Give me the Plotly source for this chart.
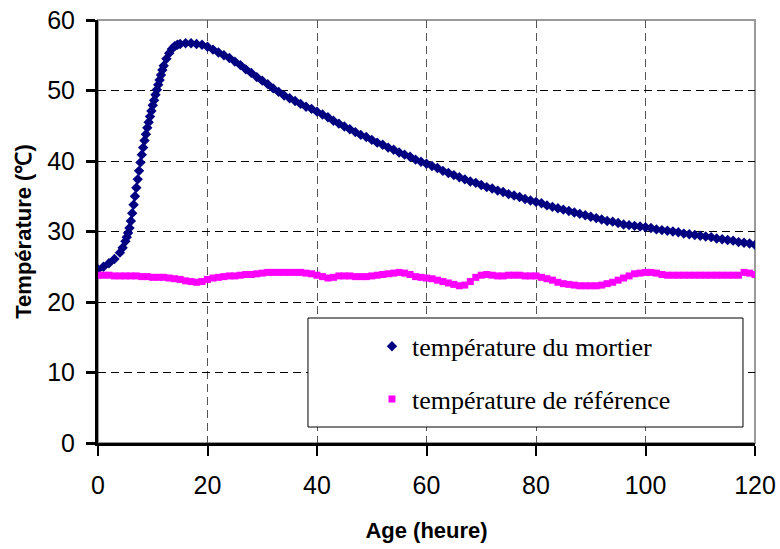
import plotly.graph_objects as go

# ---- data ----
age_mortier = [0, 1, 2, 3, 4, 4.5, 5, 5.25, 5.5, 5.75, 6, 6.25, 6.5, 6.75, 7, 7.25, 7.5, 7.75,
               8, 8.25, 8.5, 8.75, 9, 9.25, 9.5, 9.75, 10, 10.25, 10.5, 10.75, 11, 11.25, 11.5,
               11.75, 12, 12.5, 13, 13.5, 14, 14.5, 15, 16, 17, 18, 19, 20, 21, 22, 23, 24, 25,
               26, 27, 28, 29, 30, 31, 32, 33, 34, 35, 36, 37, 38, 39, 40, 41, 42, 43, 44, 45,
               46, 47, 48, 49, 50, 51, 52, 53, 54, 55, 56, 57, 58, 59, 60, 61, 62, 63, 64, 65,
               66, 67, 68, 69, 70, 71, 72, 73, 74, 75, 76, 77, 78, 79, 80, 81, 82, 83, 84, 85,
               86, 87, 88, 89, 90, 91, 92, 93, 94, 95, 96, 97, 98, 99, 100, 101, 102, 103, 104,
               105, 106, 107, 108, 109, 110, 111, 112, 113, 114, 115, 116, 117, 118, 119, 120]
temp_mortier = [24.6, 25.0, 25.5, 26.1, 27.0, 27.7, 28.6, 29.2, 29.8, 30.5, 31.5, 32.6, 33.8, 35.0,
                36.2, 37.4, 38.6, 39.8, 40.9, 41.9, 42.9, 43.8, 44.7, 45.5, 46.3, 47.1, 47.9, 48.6,
                49.4, 50.1, 50.8, 51.5, 52.2, 52.9, 53.5, 54.5, 55.3, 55.9, 56.3, 56.5, 56.6, 56.7,
                56.7, 56.6, 56.5, 56.2, 55.8, 55.4, 55.0, 54.6, 54.1, 53.6, 53.0, 52.5, 51.9, 51.4,
                50.9, 50.3, 49.8, 49.3, 48.9, 48.5, 48.1, 47.7, 47.4, 47.0, 46.6, 46.2, 45.7, 45.3,
                44.9, 44.5, 44.1, 43.7, 43.4, 43.0, 42.6, 42.3, 41.9, 41.6, 41.2, 40.9, 40.6, 40.2,
                39.9, 39.6, 39.3, 39.0, 38.6, 38.3, 38.0, 37.7, 37.4, 37.1, 36.9, 36.6, 36.3, 36.1,
                35.8, 35.6, 35.3, 35.1, 34.9, 34.6, 34.4, 34.2, 34.0, 33.7, 33.5, 33.3, 33.1, 32.9,
                32.7, 32.5, 32.3, 32.1, 31.9, 31.7, 31.5, 31.4, 31.2, 31.0, 30.9, 30.8, 30.7, 30.6,
                30.5, 30.3, 30.2, 30.1, 30.0, 29.9, 29.7, 29.6, 29.5, 29.4, 29.3, 29.2, 29.0, 28.9,
                28.8, 28.7, 28.5, 28.4, 28.3, 28.1]

age_reference = list(range(0, 121))
temp_reference = [23.8, 23.8, 23.8, 23.7, 23.7, 23.7, 23.7, 23.7, 23.6, 23.6, 23.5, 23.5, 23.5, 23.4,
                  23.3, 23.2, 23.0, 22.9, 22.8, 22.9, 23.2, 23.4, 23.5, 23.6, 23.7, 23.7, 23.8, 23.9,
                  23.9, 24.0, 24.1, 24.2, 24.2, 24.2, 24.2, 24.2, 24.2, 24.2, 24.1, 24.0, 23.8, 23.6,
                  23.4, 23.5, 23.7, 23.7, 23.7, 23.6, 23.6, 23.6, 23.7, 23.8, 23.9, 24.0, 24.1, 24.2,
                  24.1, 23.9, 23.6, 23.5, 23.4, 23.3, 23.1, 22.9, 22.7, 22.5, 22.3, 22.4, 22.9, 23.5,
                  23.8, 23.9, 23.8, 23.7, 23.7, 23.8, 23.8, 23.8, 23.7, 23.7, 23.7, 23.5, 23.3, 23.1,
                  22.8, 22.6, 22.5, 22.4, 22.3, 22.3, 22.3, 22.3, 22.4, 22.6, 22.8, 23.1, 23.4, 23.7,
                  24.0, 24.1, 24.2, 24.2, 24.1, 23.9, 23.8, 23.8, 23.8, 23.8, 23.8, 23.8, 23.8, 23.8,
                  23.8, 23.8, 23.8, 23.8, 23.8, 23.8, 24.2, 24.1, 23.9]

x_ticks = [0, 20, 40, 60, 80, 100, 120]
y_ticks = [0, 10, 20, 30, 40, 50, 60]

name_mortier = "température du mortier"
name_reference = "température de référence"

tick_font = dict(family="Arial, Liberation Sans, sans-serif", size=25, color="black")
title_font = dict(family="Arial, Liberation Sans, sans-serif", size=22, color="black")

fig = go.Figure()
fig.add_trace(go.Scatter(
    x=age_mortier, y=temp_mortier, mode="markers", name=name_mortier, legendgroup="a",
    marker=dict(symbol="diamond", size=8, color="#000080", line=dict(width=0)),
))
fig.add_trace(go.Scatter(
    x=age_reference, y=temp_reference, mode="markers", name=name_reference, legendgroup="b",
    marker=dict(symbol="square", size=7, color="#FF00FF", line=dict(width=0)),
))

# plot-area border (gray) and legend box
fig.add_shape(type="rect", xref="paper", yref="paper", x0=0, x1=1, y0=0, y1=1,
              line=dict(color="#9a9a9a", width=2), fillcolor="rgba(0,0,0,0)", layer="between")
fig.add_shape(type="rect", xref="paper", yref="paper", x0=0.3196, x1=0.9817, y0=0.0378, y1=0.2955,
              line=dict(color="black", width=1), fillcolor="white", layer="above")

fig.update_xaxes(
    range=[0, 120], tickvals=x_ticks, ticktext=[str(v) for v in x_ticks],
    showline=True, linecolor="black", linewidth=3, mirror=False,
    ticks="outside", ticklen=10, tickwidth=2, tickcolor="black",
    showgrid=True, gridcolor="#555555", gridwidth=1, griddash="8px,5px",
    zeroline=False, tickfont=tick_font, ticklabelstandoff=8, automargin=False,
    ticklabeloverflow="allow",
    title=dict(text="<b>Age (heure)</b>", font=title_font, standoff=25),
)
fig.update_yaxes(
    range=[0, 60], tickvals=y_ticks, ticktext=[str(v) for v in y_ticks],
    showline=True, linecolor="black", linewidth=3, mirror=False,
    ticks="outside", ticklen=9, tickwidth=3, tickcolor="black",
    showgrid=True, gridcolor="black", gridwidth=1, griddash="8px,5px",
    zeroline=False, tickfont=tick_font, ticklabelstandoff=6, automargin=False,
    ticklabeloverflow="allow",
    title=dict(text="<b>Température (℃)</b>", font=title_font, standoff=10),
)

fig.update_layout(
    width=780, height=549,
    margin=dict(l=98, r=25, t=20, b=106, autoexpand=False),
    plot_bgcolor="white", paper_bgcolor="white",
    showlegend=True,
    legend=dict(
        x=0.417, xanchor="left", y=0.284, yanchor="top",
        bgcolor="rgba(0,0,0,0)", borderwidth=0,
        font=dict(family="Times New Roman, Liberation Serif, serif", size=26, color="black"),
        tracegroupgap=16, traceorder="grouped",
    ),
)

fig.write_html(
    "out.html",
    config={"displayModeBar": False},
    post_script="document.body.style.margin='0';document.body.style.overflow='hidden';",
)
